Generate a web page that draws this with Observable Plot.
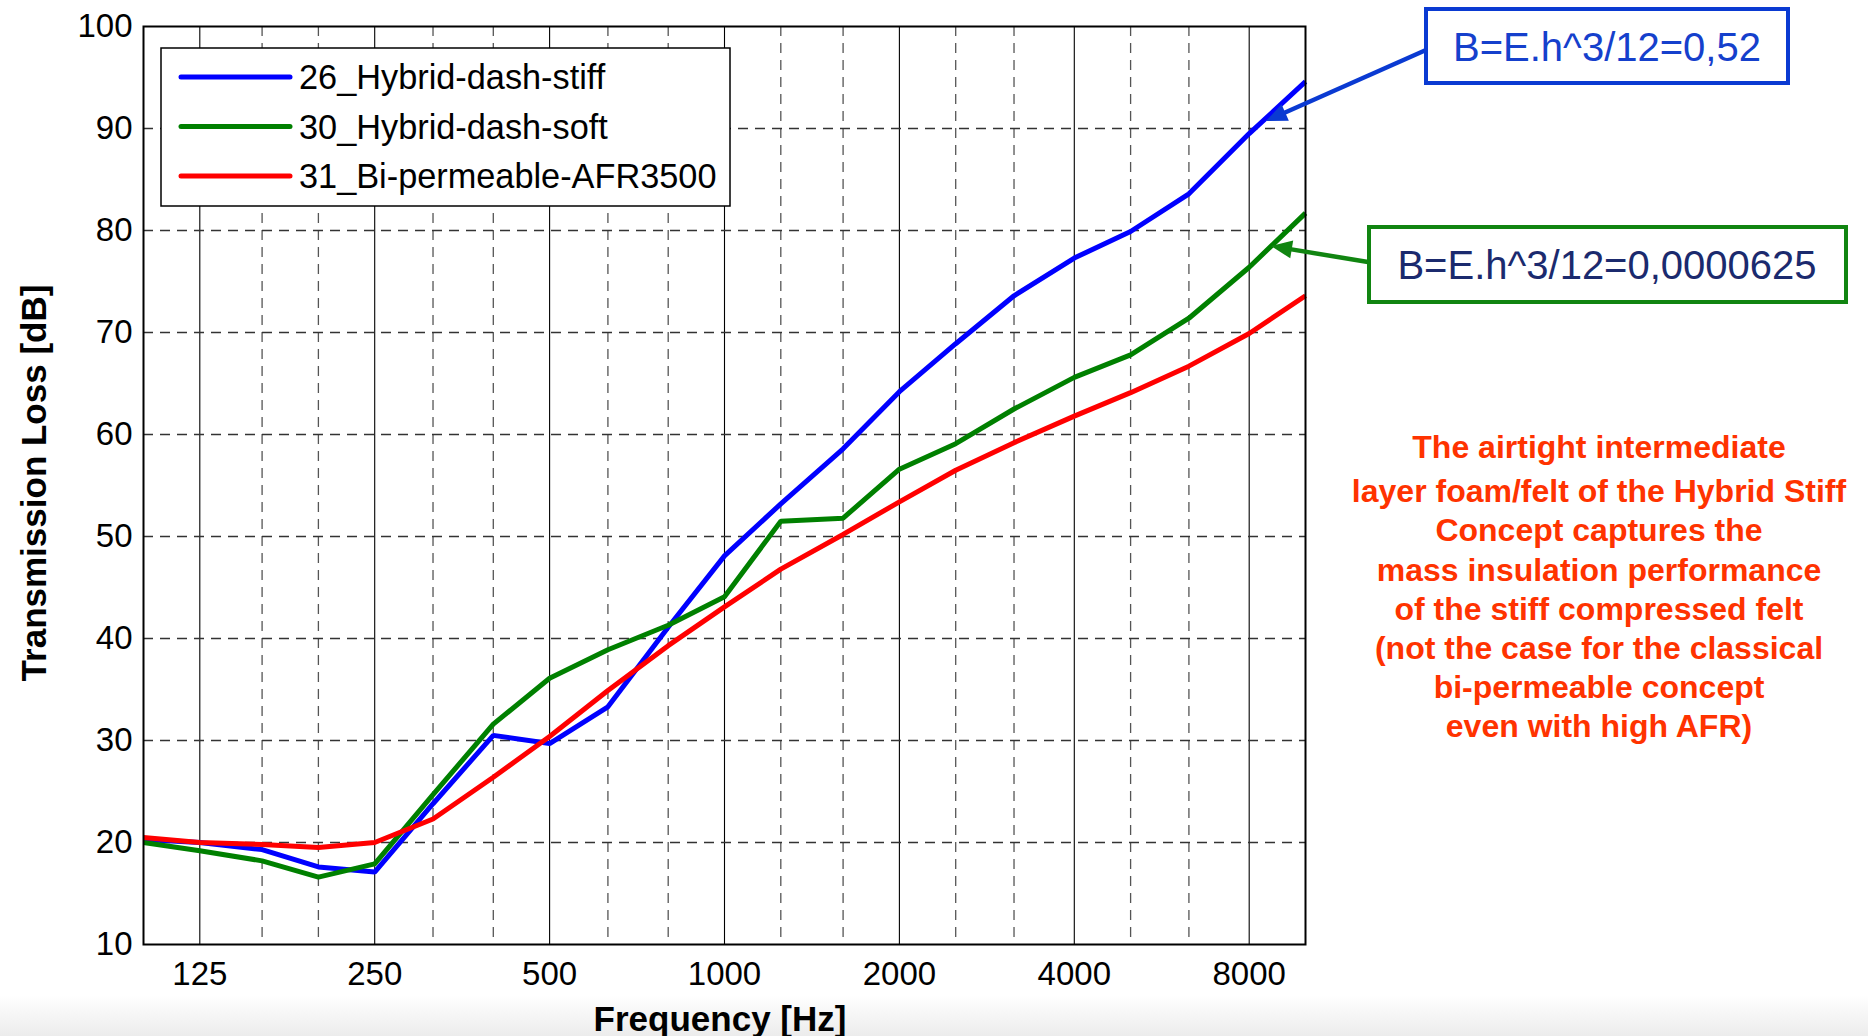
<!DOCTYPE html>
<html>
<head>
<meta charset="utf-8">
<script src="https://cdn.jsdelivr.net/npm/d3@7"></script>
<script src="https://cdn.jsdelivr.net/npm/@observablehq/plot@0.6"></script>
<style>
  html, body { margin: 0; padding: 0; background: #ffffff; overflow: hidden; }
  #chart svg { display: block; }
</style>
</head>
<body>
<div id="chart"></div>
<script>
// ---- data (1/3-octave bands, Transmission Loss in dB) ----
const freqs = [100, 125, 160, 200, 250, 315, 400, 500, 630, 800, 1000, 1250, 1600, 2000, 2500, 3150, 4000, 5000, 6300, 8000, 10000];
const stiffTL = [20.3, 20.0, 19.3, 17.6, 17.1, 23.8, 30.5, 29.7, 33.3, 41.1, 48.1, 53.2, 58.6, 64.2, 68.9, 73.6, 77.3, 79.9, 83.6, 89.5, 94.6];
const softTL = [20.0, 19.2, 18.2, 16.6, 17.9, 24.7, 31.6, 36.1, 38.9, 41.3, 44.1, 51.5, 51.8, 56.6, 59.1, 62.5, 65.6, 67.8, 71.4, 76.4, 81.7];
const bipermTL = [20.5, 20.0, 19.8, 19.5, 20.0, 22.3, 26.4, 30.4, 34.9, 39.3, 43.1, 46.8, 50.2, 53.4, 56.5, 59.2, 61.8, 64.1, 66.7, 69.9, 73.6];

const seriesNames = ["26_Hybrid-dash-stiff", "30_Hybrid-dash-soft", "31_Bi-permeable-AFR3500"];
const seriesColors = ["#0000ff", "#008000", "#ff0000"];

const xTicks = [125, 250, 500, 1000, 2000, 4000, 8000];
const yTicks = [10, 20, 30, 40, 50, 60, 70, 80, 90, 100];

const xLabel = "Frequency [Hz]";
const yLabel = "Transmission Loss [dB]";
const noteStiff = "B=E.h^3/12=0,52";
const noteSoft = "B=E.h^3/12=0,0000625";
const conclusionLines = [
  "The airtight intermediate",
  "layer foam/felt of the Hybrid Stiff",
  "Concept captures the",
  "mass insulation performance",
  "of the stiff compressed felt",
  "(not the case for the classical",
  "bi-permeable concept",
  "even with high AFR)"
];

// ---- build table ----
const seriesValues = [stiffTL, softTL, bipermTL];
const rows = [];
seriesNames.forEach((name, k) => {
  freqs.forEach((f, i) => rows.push({f, v: seriesValues[k][i], s: name}));
});
const minorX = freqs.filter(f => !xTicks.includes(f) && f !== freqs[0] && f !== freqs[freqs.length - 1]);
const gridY = yTicks.slice(1, -1);

const W = 1868, H = 1036;
const FONT = "'Liberation Sans', Arial, Helvetica, sans-serif";

const plot = Plot.plot({
  width: W,
  height: H,
  marginLeft: 143,
  marginRight: 563,
  marginTop: 26,
  marginBottom: 92,
  style: {fontFamily: FONT, fontSize: "33px", color: "#000", background: "transparent", overflow: "visible"},
  x: {type: "log", domain: [100, 10000], label: null, axis: null},
  y: {domain: [10, 100], label: null},
  color: {domain: seriesNames, range: seriesColors},
  marks: [
    Plot.ruleX(minorX, {stroke: "#555", strokeWidth: 1.3, strokeDasharray: "10,7"}),
    Plot.ruleX(xTicks, {stroke: "#000", strokeWidth: 1.1}),
    Plot.ruleY(gridY, {stroke: "#333", strokeWidth: 1.3, strokeDasharray: "10,7"}),
    Plot.line(rows, {x: "f", y: "v", z: "s", stroke: "s", strokeWidth: 5, strokeLinejoin: "miter", strokeLinecap: "butt"}),
    Plot.frame({stroke: "#000", strokeWidth: 2}),
    Plot.text(xTicks, {x: d => d, text: d => String(d), frameAnchor: "bottom", dy: 40, fontSize: 33, fill: "#000"}),
    Plot.axisY(yTicks, {tickFormat: d => String(d), tickSize: 0, tickPadding: 11, label: null})
  ]
});

document.getElementById("chart").appendChild(plot);
const svg = d3.select(plot);

// light slide background band at the bottom
const defs = svg.insert("defs", ":first-child");
const grad = defs.append("linearGradient").attr("id", "bottomBand").attr("x1", 0).attr("y1", 0).attr("x2", 0).attr("y2", 1);
grad.append("stop").attr("offset", "0%").attr("stop-color", "#ffffff");
grad.append("stop").attr("offset", "100%").attr("stop-color", "#ececec");
svg.insert("rect", "defs + *").attr("x", 0).attr("y", 995).attr("width", W).attr("height", H - 995).attr("fill", "url(#bottomBand)");

// axis titles
svg.append("text")
  .attr("x", 720).attr("y", 1031)
  .attr("text-anchor", "middle")
  .attr("font-family", FONT).attr("font-weight", "bold").attr("font-size", 35)
  .attr("fill", "#000")
  .text(xLabel);
svg.append("text")
  .attr("transform", "translate(46,483) rotate(-90)")
  .attr("text-anchor", "middle")
  .attr("font-family", FONT).attr("font-weight", "bold").attr("font-size", 35)
  .attr("fill", "#000")
  .text(yLabel);

// legend inside the plot
const lg = svg.append("g").attr("text-anchor", "start");
lg.append("rect").attr("x", 161).attr("y", 48).attr("width", 569).attr("height", 158)
  .attr("fill", "#fff").attr("stroke", "#000").attr("stroke-width", 1.5);
seriesNames.forEach((name, i) => {
  const cy = 77 + i * 49.5;
  lg.append("line").attr("x1", 181).attr("x2", 290).attr("y1", cy).attr("y2", cy)
    .attr("stroke", seriesColors[i]).attr("stroke-width", 5).attr("stroke-linecap", "round");
  lg.append("text").attr("x", 299).attr("y", cy + 12)
    .attr("text-anchor", "start")
    .attr("font-family", FONT).attr("font-size", 34.3).attr("fill", "#000")
    .text(name);
});

// annotation boxes and arrows
function arrow(x0, y0, x1, y1, color) {
  const dx = x1 - x0, dy = y1 - y0, len = Math.hypot(dx, dy);
  const ux = dx / len, uy = dy / len, nx = -uy, ny = ux;
  const L = 21, Wd = 9;
  svg.append("line").attr("x1", x0).attr("y1", y0)
    .attr("x2", x1 - ux * L * 0.7).attr("y2", y1 - uy * L * 0.7)
    .attr("stroke", color).attr("stroke-width", 4.5);
  const bx = x1 - ux * L, by = y1 - uy * L;
  svg.append("polygon")
    .attr("points", `${x1},${y1} ${bx + nx * Wd},${by + ny * Wd} ${bx - nx * Wd},${by - ny * Wd}`)
    .attr("fill", color);
}
arrow(1426, 50, 1266, 121, "#0a3ad2");
arrow(1368, 262, 1271, 246, "#118511");

svg.append("rect").attr("x", 1426).attr("y", 9).attr("width", 362).attr("height", 74)
  .attr("fill", "#fff").attr("stroke", "#0a3ad2").attr("stroke-width", 4);
svg.append("text").attr("x", 1607).attr("y", 61).attr("text-anchor", "middle")
  .attr("font-family", FONT).attr("font-size", 40).attr("fill", "#1540cc")
  .text(noteStiff);

svg.append("rect").attr("x", 1369).attr("y", 227).attr("width", 477).attr("height", 75)
  .attr("fill", "#fff").attr("stroke", "#118511").attr("stroke-width", 4);
svg.append("text").attr("x", 1607).attr("y", 279).attr("text-anchor", "middle")
  .attr("font-family", FONT).attr("font-size", 40).attr("fill", "#1b2a6e")
  .text(noteSoft);

// conclusion text
const lineYs = [458, 502, 541, 581, 620, 659, 698, 737];
conclusionLines.forEach((t, i) => {
  svg.append("text").attr("x", 1599).attr("y", lineYs[i]).attr("text-anchor", "middle")
    .attr("font-family", FONT).attr("font-weight", "bold").attr("font-size", 32)
    .attr("fill", "#ff3300")
    .text(t);
});
</script>
</body>
</html>
